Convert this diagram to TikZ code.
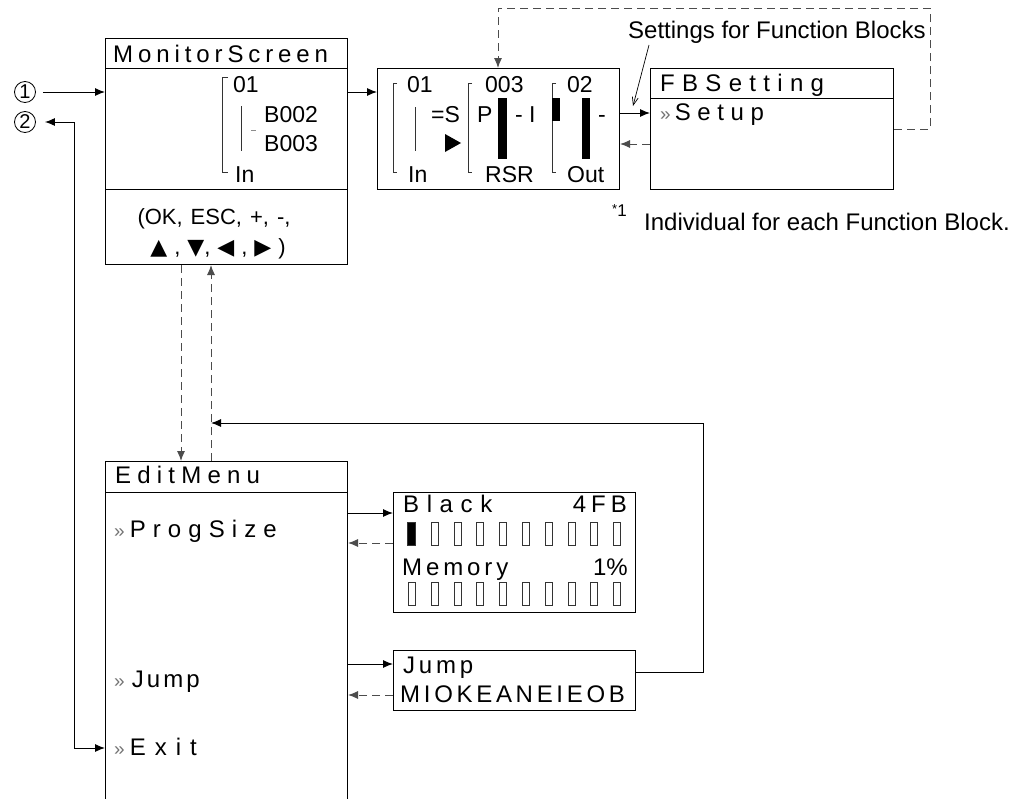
\documentclass[tikz,border=0pt]{standalone}
\usepackage{fontspec}
\setmainfont{Liberation Sans}
\newfontfamily\sym{DejaVu Sans}
\usetikzlibrary{arrows.meta}
\newcommand\fs[1]{\fontsize{#1}{#1}\selectfont}
\makeatletter
\newcommand\ls[2]{\def\ls@k{#1}\@tfor\ls@c:=#2\do{\ls@c\kern\ls@k pt}\unkern}
\makeatother
\newcommand\mk{{\color{black!55}\fs{19}»}}
\tikzset{
  box/.style={draw, line width=1pt, inner sep=0, anchor=north west},
  arr/.style={line width=1pt, -{Latex[length=10pt,width=8pt]}},
  darr/.style={arr, dash pattern=on 8pt off 5pt, draw=black!70},
  txt/.style={inner sep=0, anchor=base west},
  txe/.style={inner sep=0, anchor=base east},
  circ/.style={draw, circle, line width=0.8pt, minimum size=21pt, inner sep=0, font={\fs{20}}},
  brk/.style={line width=0.8pt, draw=black!80},
  cell/.style={draw=black!80, line width=0.8pt, minimum width=7pt, minimum height=23pt, inner sep=0, anchor=north west},
}
\begin{document}
\begin{tikzpicture}[x=1pt,y=-1pt]
\useasboundingbox[fill=white] (0,0) rectangle (1017,798);

% circles
\node[circ] (c1) at (25,92) {1};
\node[circ] (c2) at (25,122) {2};

% boxes
\node[box, minimum width=242pt, minimum height=226pt] (mon) at (105,38) {};
\node[box, minimum width=242pt, minimum height=121pt] (fbd) at (377,68) {};
\node[box, minimum width=243pt, minimum height=121pt] (fbs) at (650,68) {};
\node[box, minimum width=242pt, minimum height=345pt] (edit) at (105,461) {};
\node[box, minimum width=242pt, minimum height=120pt] (blk) at (393,492) {};
\node[box, minimum width=242pt, minimum height=60pt] (jmp) at (393,650) {};

% separators
\draw[line width=1pt] (mon.west |- 0,68) -- (mon.east |- 0,68);
\draw[line width=1pt] (mon.west |- 0,189) -- (mon.east |- 0,189);
\draw[line width=1pt] (fbs.west |- 0,98) -- (fbs.east |- 0,98);
\draw[line width=1pt] (edit.west |- 0,492) -- (edit.east |- 0,492);

% monitor screen contents
\node[txt] (mt) at (113,62) {\fs{24}\ls{4.9}{MonitorScreen}};
\draw[brk] (228,77) -- (222,77) -- (222,172) -- (228,172);
\draw[brk] (241,106) -- (241,151);
\draw[line width=0.8pt, draw=black!45] (251,130) -- (256,130);
\node[txt] (m01) at (233,92) {\fs{23}01};
\node[txt] (mb2) at (264,122) {\fs{23}B002};
\node[txt] (mb3) at (264,151) {\fs{23}B003};
\node[txt] (min) at (235,182) {\fs{23}In};
\node[inner sep=0, anchor=base] (k1) at (214,224) {\fs{22}\spaceskip=8pt (OK, ESC, +, -,};
\node[inner sep=0, anchor=base] (k2) at (218,254) {\fs{22}\spaceskip=7pt {\sym\fs{22}▲} , {\sym\fs{22}▼}, {\sym\fs{22}◀} , {\sym\fs{22}▶} )};

% function block display
\draw[brk] (397,83) -- (393,83) -- (393,172) -- (397,172);
\draw[brk] (472,83) -- (468,83) -- (468,172) -- (472,172);
\draw[brk] (556,83) -- (552,83) -- (552,172) -- (556,172);
\draw[brk] (415,107) -- (415,151);
\node[txt] (d01) at (407,92) {\fs{23}01};
\node[txt] (dS) at (431,122) {\fs{23}=S};
\fill (445,134) -- (461,143) -- (445,152) -- cycle;
\node[txt] (dIn) at (408,182) {\fs{23}In};
\node[txt] (d003) at (485,92) {\fs{23}003};
\node[txt] (dP) at (477,122) {\fs{23}P};
\fill (498,98) rectangle (507,159);
\node[txt] (dI) at (515,122) {\fs{23}- I};
\node[txt] (dR) at (485,182) {\fs{23}RSR};
\node[txt] (d02) at (567,92) {\fs{23}02};
\fill (552,98) rectangle (560,121);
\fill (582,98) rectangle (590,159);
\node[txt] (dm) at (598,122) {\fs{23}-};
\node[txt] (dO) at (567,182) {\fs{23}Out};

% FB setting
\node[txt] (ft) at (660,91) {\fs{24}\ls{7.3}{FBSetting}};
\node[txt] (fs) at (660,120) {\mk\kern4pt\fs{24}\ls{6.6}{Setup}};

% labels
\node[txt] (lbl) at (628,38) {\fs{24}Settings for Function Blocks};
\draw[line width=0.7pt, -{Straight Barb[length=8pt,width=6pt]}] (649,45) -- (633,106);
\node[txt] (fn1) at (612,216) {\fs{17}{\fs{13}\raisebox{3pt}{*}}1};
\node[txt] (fn) at (644,230) {\fs{24}Individual for each Function Block.};

% edit menu
\node[txt] (et) at (115,483) {\fs{24}\ls{6.2}{EditMenu}};
\node[txt] (e1) at (114,537) {\mk\kern5pt\fs{24}\ls{7.1}{ProgSize}};
\node[txt] (e2) at (114,687) {\mk\kern7pt\fs{24}\ls{3.1}{Jump}};
\node[txt] (e3) at (114,755) {\mk\kern5pt\fs{24}\ls{9}{Exit}};

% block / memory box
\node[txt] (bt) at (403,512) {\fs{24}\ls{7.6}{Black}};
\node[txe] (bn) at (627,512) {\fs{24}\ls{5}{4FB}};
\node[txt] (mm) at (402,575) {\fs{24}\ls{3.9}{Memory}};
\node[txe] (mp) at (628,575) {\fs{24}1\%};
\node[cell, fill=black, minimum width=8pt] (r0) at (407,522) {};
\foreach \i in {1,...,9} {
  \node[cell] (r\i) at ({408+\i*22.8},522) {};
}
\foreach \i in {0,...,9} {
  \node[cell] (s\i) at ({408+\i*22.8},582) {};
}

% jump box
\node[txt] (jt) at (403,673) {\fs{24}\ls{3.8}{Jump}};
\node[txt] (jc) at (400,702) {\fs{24}\ls{3.7}{MIOKEANEIEOB}};

% connectors
\draw[arr, shorten <=7pt] (c1.east) -- (mon.west |- c1.east);
\draw[line width=1pt, {Latex[length=10pt,width=8pt]}-{Latex[length=10pt,width=8pt]}, shorten <=9pt] (c2.east) -- (74,122) |- (edit.west |- 0,748);
\draw[arr] (mon.east |- 0,92) -- (fbd.west |- 0,92);
\draw[arr] (fbd.east |- 0,113) -- (fbs.west |- 0,113);
\draw[darr] (fbs.west |- 0,144) -- (fbd.east |- 0,144);
\draw[darr] (fbs.east |- 0,129) -- (930,129) -- (930,8) -- (498,8) -- (fbd.north -| 498,0);
\draw[darr] (mon.south -| 181,0) -- (edit.north -| 181,0);
\draw[darr] (edit.north -| 211,0) -- (mon.south -| 211,0);
\draw[arr] (jmp.east |- 0,672) -| (703,423) -- (211,423);
\draw[arr] (edit.east |- 0,513) -- (blk.west |- 0,513);
\draw[darr] (blk.west |- 0,543) -- (edit.east |- 0,543);
\draw[arr] (edit.east |- 0,664) -- (jmp.west |- 0,664);
\draw[darr] (jmp.west |- 0,695) -- (edit.east |- 0,695);
\end{tikzpicture}
\end{document}
